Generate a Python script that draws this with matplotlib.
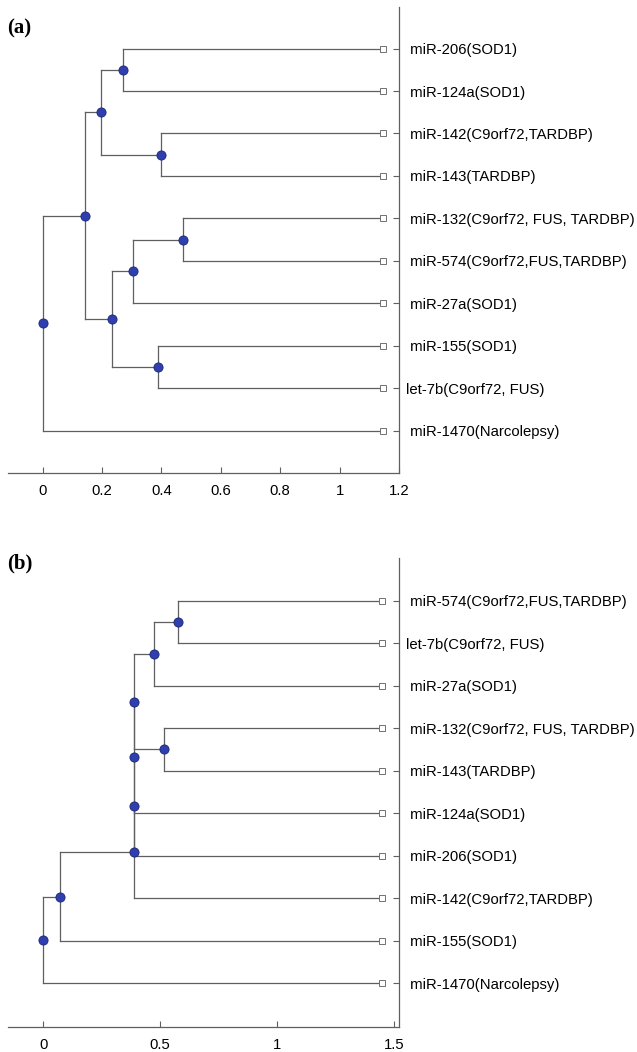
import matplotlib
matplotlib.use("Agg")
import matplotlib.pyplot as plt

# ---------------- data ----------------
# Panel (a): leaves top -> bottom
leaves_a = [" miR-206(SOD1)", " miR-124a(SOD1)", " miR-142(C9orf72,TARDBP)",
            " miR-143(TARDBP)", " miR-132(C9orf72, FUS, TARDBP)",
            " miR-574(C9orf72,FUS,TARDBP)", " miR-27a(SOD1)", " miR-155(SOD1)",
            "let-7b(C9orf72, FUS)", " miR-1470(Narcolepsy)"]
# merges: (child1, child2, node distance from root); leaves are ints, nodes "n<k>"
merges_a = [(0, 1, 0.271), (2, 3, 0.399), ("n0", "n1", 0.196),
            (4, 5, 0.471), ("n3", 6, 0.305), (7, 8, 0.389),
            ("n4", "n5", 0.234), ("n2", "n6", 0.141), ("n7", 9, 0.0)]
leaf_end_a = 1.145
xticks_a = [0, 0.2, 0.4, 0.6, 0.8, 1, 1.2]
xticklabels_a = ["0", "0.2", "0.4", "0.6", "0.8", "1", "1.2"]

# Panel (b)
leaves_b = [" miR-574(C9orf72,FUS,TARDBP)", "let-7b(C9orf72, FUS)", " miR-27a(SOD1)",
            " miR-132(C9orf72, FUS, TARDBP)", " miR-143(TARDBP)", " miR-124a(SOD1)",
            " miR-206(SOD1)", " miR-142(C9orf72,TARDBP)", " miR-155(SOD1)",
            " miR-1470(Narcolepsy)"]
merges_b = [(0, 1, 0.576), ("n0", 2, 0.473), (3, 4, 0.517), ("n1", "n2", 0.388),
            ("n3", 5, 0.388), ("n4", 6, 0.388), ("n5", 7, 0.388),
            ("n6", 8, 0.070), ("n7", 9, 0.0)]
leaf_end_b = 1.449
xticks_b = [0, 0.5, 1, 1.5]
xticklabels_b = ["0", "0.5", "1", "1.5"]

LINE = "#5f5f5f"
DOT_FC = "#2f3fb0"
DOT_EC = "#1c2670"


def draw_dendro(ax, leaves, merges, leaf_end, xticks, xticklabels, xlim, ylim):
    pos = {}
    for i in range(len(leaves)):
        pos[i] = (leaf_end, float(i))
    node_pts = []
    for k, (c1, c2, h) in enumerate(merges):
        x1, y1 = pos[c1]
        x2, y2 = pos[c2]
        ax.plot([h, h], [y1, y2], color=LINE, lw=0.9, zorder=1)
        ax.plot([h, x1], [y1, y1], color=LINE, lw=0.9, zorder=1)
        ax.plot([h, x2], [y2, y2], color=LINE, lw=0.9, zorder=1)
        ym = (y1 + y2) / 2.0
        pos["n%d" % k] = (h, ym)
        node_pts.append((h, ym))
    ax.plot([p[0] for p in node_pts], [p[1] for p in node_pts], "o", ms=6.6,
            mfc=DOT_FC, mec=DOT_EC, mew=0.6, zorder=3, ls="none")
    ax.plot([leaf_end] * len(leaves), list(range(len(leaves))), "s", ms=3.8,
            mfc="white", mec="#707070", mew=0.7, zorder=3, ls="none")
    ax.set_xlim(*xlim)
    ax.set_ylim(*ylim)
    ax.set_xticks(xticks)
    ax.set_xticklabels(xticklabels)
    ax.yaxis.tick_right()
    ax.set_yticks(range(len(leaves)))
    ax.set_yticklabels(leaves)
    for s in ["left", "top"]:
        ax.spines[s].set_visible(False)
    for s in ["right", "bottom"]:
        ax.spines[s].set_color(LINE)
        ax.spines[s].set_linewidth(0.9)
    ax.tick_params(axis="x", direction="in", length=4, width=0.8, color=LINE,
                   pad=8, labelsize=10.7)
    ax.tick_params(axis="y", direction="in", length=4, width=0.8, color=LINE,
                   pad=5, labelsize=10.7, left=False, right=True,
                   labelleft=False, labelright=True)


plt.rcParams["font.family"] = ["Liberation Sans", "DejaVu Sans"]
fig = plt.figure(figsize=(6.37, 10.52), dpi=100)

ax_a = fig.add_axes([8 / 637, 1 - 473 / 1052, (399 - 8) / 637, (473 - 7) / 1052])
draw_dendro(ax_a, leaves_a, merges_a, leaf_end_a, xticks_a, xticklabels_a,
            (-0.117, 1.2), (10.0, -0.98))

ax_b = fig.add_axes([8 / 637, 1 - 1027 / 1052, (399 - 8) / 637, (1027 - 558) / 1052])
draw_dendro(ax_b, leaves_b, merges_b, leaf_end_b, xticks_b, xticklabels_b,
            (-0.15, 1.52), (10.03, -1.0))

fig.text(7 / 637, 1 - 28 / 1052, "(a)", fontsize=15, fontweight="bold",
         family=["Liberation Serif", "DejaVu Serif"], va="center", ha="left")
fig.text(7 / 637, 1 - 563 / 1052, "(b)", fontsize=15, fontweight="bold",
         family=["Liberation Serif", "DejaVu Serif"], va="center", ha="left")

fig.savefig("out.png", dpi=100)
